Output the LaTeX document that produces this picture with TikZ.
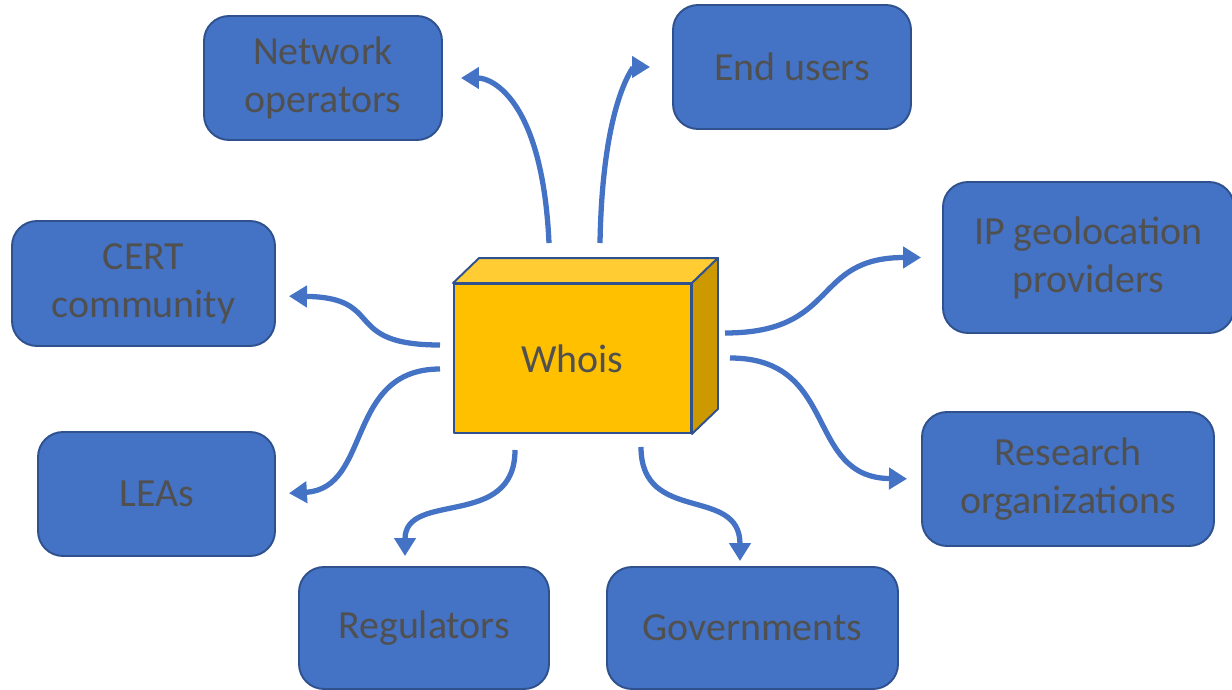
\documentclass[tikz,border=0pt]{standalone}
\usepackage{fontspec}
\setmainfont{Carlito}
\usepackage{xcolor}
\usetikzlibrary{calc, arrows.meta, positioning}
\definecolor{boxblue}{HTML}{4472C4}
\definecolor{edgeblue}{HTML}{2F528F}
\definecolor{txtgray}{HTML}{505050}
\definecolor{cubefront}{HTML}{FFC000}
\definecolor{cubetop}{HTML}{FFCD33}
\definecolor{cubeside}{HTML}{CC9A00}

\begin{document}
\begin{tikzpicture}[
  party/.style={draw=edgeblue, line width=1.1pt, fill=boxblue, rounded corners=0.5cm,
    align=center, text=txtgray, inner sep=0pt, font=\fontsize{22.7}{27.3}\selectfont},
  face/.style={draw=edgeblue, line width=1.1pt, line join=round},
  feed/.style={boxblue, line width=3pt, -{Triangle[length=0.36cm, width=0.42cm]}}]
\useasboundingbox (0,0) rectangle (24.64,-13.8);
% the Whois block
\node[face, fill=cubefront, text=txtgray, minimum width=4.74cm, minimum height=2.98cm,
  font=\fontsize{22.7}{27.3}\selectfont] (whois) at (11.45,-7.17) {Whois};
\draw[face, fill=cubetop] (whois.north west) -- ++(0.52,0.5)
  -- ($(whois.north east)+(0.52,0.5)$) -- (whois.north east) -- cycle;
\draw[face, fill=cubeside] (whois.north east) -- ++(0.52,0.5)
  -- ($(whois.south east)+(0.52,0.5)$) -- (whois.south east) -- cycle;
% users of the data
\node[party, minimum width=4.76cm, minimum height=2.48cm] (netop) at (6.46,-1.56) {Network\\operators};
\node[party, minimum width=4.76cm, minimum height=2.48cm] (endusr) at (15.84,-1.34) {End users};
\node[party, minimum width=5.26cm, minimum height=2.5cm] (cert) at (2.87,-5.67) {CERT\\community};
\node[party, minimum width=4.74cm, minimum height=2.48cm] (leas) at (3.13,-9.88) {LEAs};
\node[party, minimum width=5.0cm, minimum height=2.44cm] (regul) at (8.48,-12.56) {Regulators};
\node[party, minimum width=5.82cm, minimum height=2.44cm] (govt) at (15.05,-12.56) {Governments};
\node[party, minimum width=5.82cm, minimum height=3.02cm] (ipgeo) at (21.77,-5.15) {IP geolocation\\providers};
\node[party, minimum width=5.84cm, minimum height=2.68cm] (research) at (21.36,-9.58) {Research\\organizations};
% where the arrows leave the block
\path coordinate (o-net) at (10.98,-4.86)
      coordinate (o-end) at (12.0,-4.86)
      coordinate (o-cert) at (8.8,-6.9)
      coordinate (o-lea) at (8.8,-7.38)
      coordinate (o-reg) at (10.3,-9.0)
      coordinate (o-gov) at (12.82,-8.94)
      coordinate (o-ip) at (14.5,-6.66)
      coordinate (o-res) at (14.6,-7.16);
\draw[feed, shorten >=0.36cm] (o-net) .. controls (10.85,-2.0) and (9.84,-1.56) .. (netop.east);
\draw[feed, shorten >=0.44cm] (o-end) .. controls (12.05,-2.0) and (12.69,-1.34) .. (endusr.west);
\draw[feed, shorten >=0.26cm] (o-cert) .. controls (6.8,-6.9) and (7.74,-5.95) .. ($(cert.east)+(0,-0.25)$);
\draw[feed, shorten >=0.26cm] (o-lea) .. controls (6.9,-7.38) and (7.44,-9.77) .. (leas.east);
\draw[feed, shorten >=0.2cm] (o-reg) .. controls (10.3,-10.6) and (8.1,-9.8) .. ($(regul.north)+(-0.38,0)$);
\draw[feed, shorten >=0.1cm] (o-gov) .. controls (12.82,-10.5) and (14.8,-9.7) .. ($(govt.north)+(-0.25,0)$);
\draw[feed, shorten >=0.42cm] (o-ip) .. controls (16.8,-6.66) and (16.22,-5.15) .. (ipgeo.west);
\draw[feed, shorten >=0.28cm] (o-res) .. controls (16.8,-7.16) and (16.08,-9.55) .. (research.west);
\end{tikzpicture}
\end{document}
